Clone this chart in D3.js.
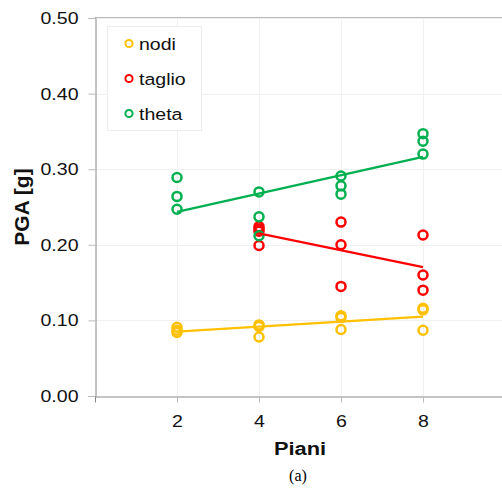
<!DOCTYPE html>
<html>
<head>
<meta charset="utf-8">
<script src="https://cdn.jsdelivr.net/npm/d3@7"></script>
<style>
  html, body { margin: 0; padding: 0; background: #fff; }
  svg { display: block; }
</style>
</head>
<body>
<svg id="chart" width="502" height="490"></svg>
<script>
// Number of floors tested, and measured PGA for each analysis criterion
const pianiNodi   = [2, 2, 2, 4, 4, 4, 6, 6, 6, 8, 8, 8];
const pgaNodi     = [0.091, 0.087, 0.084, 0.094, 0.092, 0.078, 0.106, 0.104, 0.088, 0.116, 0.114, 0.087];

const pianiTaglio = [4, 4, 4, 4, 6, 6, 6, 8, 8, 8];
const pgaTaglio   = [0.224, 0.221, 0.218, 0.199, 0.230, 0.200, 0.145, 0.213, 0.160, 0.140];

const pianiTheta  = [2, 2, 2, 4, 4, 4, 6, 6, 6, 8, 8, 8];
const pgaTheta    = [0.289, 0.264, 0.247, 0.270, 0.237, 0.212, 0.291, 0.278, 0.267, 0.347, 0.337, 0.320];

const seriesNames  = ["nodi", "taglio", "theta"];
const seriesColors = ["#FFC000", "#FF0000", "#00B050"];

const xTicks = [2, 4, 6, 8];
const yTicks = [0.0, 0.1, 0.2, 0.3, 0.4, 0.5];

const series = [
  { name: seriesNames[0], color: seriesColors[0], xs: pianiNodi,   ys: pgaNodi },
  { name: seriesNames[1], color: seriesColors[1], xs: pianiTaglio, ys: pgaTaglio },
  { name: seriesNames[2], color: seriesColors[2], xs: pianiTheta,  ys: pgaTheta }
];

const svg = d3.select("#chart");
const plotL = 95, plotR = 505, plotT = 18, plotB = 396;
const WIDEN = 1.15; // horizontal text widening

const x = d3.scaleLinear().domain([0, 10]).range([plotL, plotR]);
const y = d3.scaleLinear().domain([0, 0.5]).range([plotB, plotT]);

const font = "'Liberation Sans', Arial, Helvetica, sans-serif";

// Move a text's x/y into a transform so it can be widened around its anchor
function widen(sel) {
  sel.each(function () {
    const t = d3.select(this);
    const tx = +t.attr("x") || 0, ty = +t.attr("y") || 0;
    t.attr("x", 0).attr("y", 0)
     .attr("transform", `translate(${tx},${ty}) scale(${WIDEN},1)`);
  });
}

// Light grid
const grid = svg.append("g");
grid.selectAll("line.gx").data(xTicks).join("line")
  .attr("x1", d => x(d) + 0.5).attr("x2", d => x(d) + 0.5)
  .attr("y1", plotT).attr("y2", plotB)
  .attr("stroke", "#f0f0f0").attr("stroke-width", 1);
grid.selectAll("line.gy").data(yTicks.slice(1)).join("line")
  .attr("x1", plotL).attr("x2", plotR)
  .attr("y1", d => Math.round(y(d)) + 0.5).attr("y2", d => Math.round(y(d)) + 0.5)
  .attr("stroke", "#f0f0f0").attr("stroke-width", 1);

// Top frame line
svg.append("line")
  .attr("x1", plotL).attr("x2", plotR)
  .attr("y1", plotT - 0.5).attr("y2", plotT - 0.5)
  .attr("stroke", "#b8b8b8").attr("stroke-width", 1);

// Axes
const yAxis = d3.axisLeft(y).tickValues(yTicks).tickFormat(d3.format(".2f")).tickSize(7).tickPadding(10);
const gy = svg.append("g").attr("transform", `translate(${plotL + 0.5},0)`).call(yAxis);
gy.select(".domain").attr("stroke", "#888");
gy.selectAll(".tick line").attr("stroke", "#bbb");
gy.selectAll("text").attr("font-family", font).attr("font-size", 17).attr("fill", "#111").call(widen);

const xAxis = d3.axisBottom(x).tickValues(xTicks).tickFormat(d3.format("d")).tickSize(6).tickPadding(12);
const gx = svg.append("g").attr("transform", `translate(0,${plotB + 0.5})`).call(xAxis);
gx.select(".domain").attr("stroke", "#888");
gx.selectAll(".tick line").attr("stroke", "#bbb");
gx.selectAll("text").attr("font-family", font).attr("font-size", 17).attr("fill", "#111").call(widen);

// Least-squares trend line for each series
function trend(xs, ys) {
  const mx = d3.mean(xs), my = d3.mean(ys);
  let sxy = 0, sxx = 0;
  xs.forEach((v, i) => { sxy += (v - mx) * (ys[i] - my); sxx += (v - mx) * (v - mx); });
  const b = sxy / sxx, a = my - b * mx;
  const x0 = d3.min(xs), x1 = d3.max(xs);
  return [[x0, a + b * x0], [x1, a + b * x1]];
}

const plot = svg.append("g");
series.forEach(s => {
  const pts = s.xs.map((v, i) => [v, s.ys[i]]);
  plot.append("g").selectAll("circle").data(pts).join("circle")
    .attr("cx", d => x(d[0])).attr("cy", d => y(d[1])).attr("r", 4.5)
    .attr("fill", "none").attr("stroke", s.color).attr("stroke-width", 2.5);
});
series.forEach(s => {
  const t = trend(s.xs, s.ys);
  plot.append("path")
    .attr("d", d3.line().x(d => x(d[0])).y(d => y(d[1]))(t))
    .attr("fill", "none").attr("stroke", s.color).attr("stroke-width", 2.2);
});

// Legend
const lg = svg.append("g");
lg.append("rect").attr("x", 107.5).attr("y", 26.5).attr("width", 94).attr("height", 104)
  .attr("fill", "#fff").attr("stroke", "#ececec");
series.forEach((s, i) => {
  const cy = 43.5 + i * 35;
  lg.append("circle").attr("cx", 129).attr("cy", cy).attr("r", 3.6)
    .attr("fill", "none").attr("stroke", s.color).attr("stroke-width", 2);
  lg.append("text").attr("x", 139).attr("y", cy + 6)
    .attr("font-family", font).attr("font-size", 17).attr("fill", "#111").text(s.name)
    .call(widen);
});

// Axis titles
svg.append("text").attr("transform", "translate(29,207) rotate(-90)")
  .attr("text-anchor", "middle").attr("font-family", font).attr("font-weight", "bold")
  .attr("font-size", 21).attr("fill", "#111").text("PGA [g]");
svg.append("text").attr("x", 300).attr("y", 455)
  .attr("text-anchor", "middle").attr("font-family", font).attr("font-weight", "bold")
  .attr("font-size", 19).attr("fill", "#111").text("Piani").call(widen);
svg.append("text").attr("x", 298).attr("y", 481)
  .attr("text-anchor", "middle").attr("font-family", "'Liberation Serif', 'Times New Roman', serif")
  .attr("font-size", 16).attr("fill", "#000").text("(a)");
</script>
</body>
</html>
